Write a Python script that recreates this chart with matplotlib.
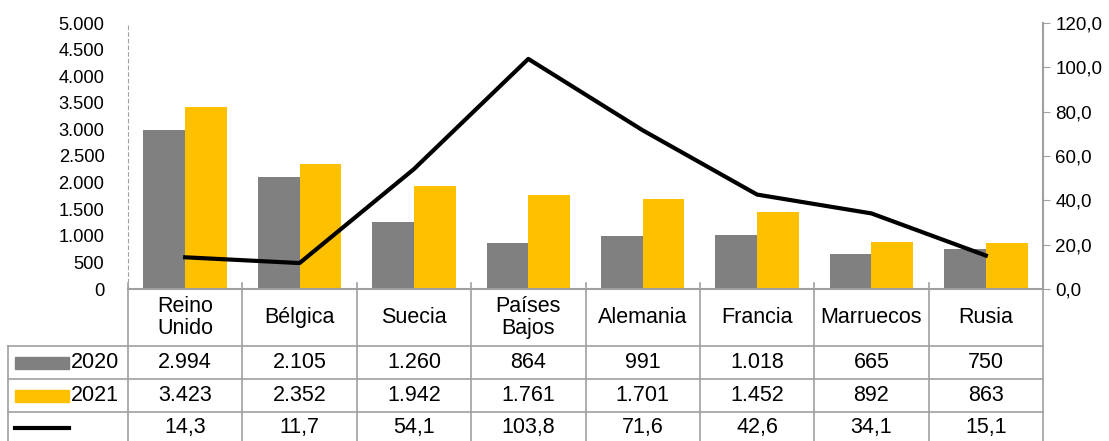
import numpy as np
import matplotlib.pyplot as plt
from matplotlib.patches import Rectangle
from matplotlib.lines import Line2D

plt.rcParams['font.family'] = ['Liberation Sans', 'DejaVu Sans']

# Data
paises = ["Reino\nUnido", "Bélgica", "Suecia", "Países\nBajos", "Alemania",
          "Francia", "Marruecos", "Rusia"]
v2020 = [2994, 2105, 1260, 864, 991, 1018, 665, 750]
v2021 = [3423, 2352, 1942, 1761, 1701, 1452, 892, 863]
variacion = [14.3, 11.7, 54.1, 103.8, 71.6, 42.6, 34.1, 15.1]
series = ["2020", "2021", ""]

GRAY = "#808080"
YELLOW = "#FFC000"
GRID = "#A0A0A0"

W, H = 1109, 441
fig = plt.figure(figsize=(W / 100, H / 100), dpi=100)


def fx(px):
    return px / W


def fy(py):
    return 1 - py / H


x_left, x_right, y_top, y_bot = 128, 1043, 23, 289
ax = fig.add_axes([fx(x_left), fy(y_bot), fx(x_right - x_left), (y_bot - y_top) / H])
ax2 = ax.twinx()

x = np.arange(len(paises))
bw = 0.365
ax.bar(x - bw / 2, v2020, bw, color=GRAY)
ax.bar(x + bw / 2, v2021, bw, color=YELLOW)
ax2.plot(x, variacion, color="black", lw=3)

ax.set_xlim(-0.5, len(paises) - 0.5)
ax.set_ylim(0, 5000)
ax2.set_ylim(0, 120)
ax.set_yticks(np.arange(0, 5001, 500))
ax.set_yticklabels([f"{v:,.0f}".replace(",", ".") for v in np.arange(0, 5001, 500)])
ax2.set_yticks(np.arange(0, 121, 20))
ax2.set_yticklabels([f"{v:.1f}".replace(".", ",") for v in np.arange(0, 121, 20)])
ax.set_xticks([])
ax.tick_params(axis="y", length=0, labelsize=13.2, pad=17)
ax2.tick_params(axis="y", length=5, color=GRID, labelsize=13.5, pad=4)

for s in ["top"]:
    ax.spines[s].set_visible(False)
    ax2.spines[s].set_visible(False)
ax2.spines["left"].set_visible(False)
ax.spines["right"].set_visible(False)
ax.spines["left"].set_linestyle((0, (3, 3)))
ax.spines["left"].set_color(GRID)
ax.spines["left"].set_linewidth(0.8)
ax2.spines["right"].set_color(GRID)
ax2.spines["right"].set_linewidth(1.5)
ax2.spines["bottom"].set_color(GRID)
ax2.spines["bottom"].set_linewidth(1.5)
ax.spines["bottom"].set_visible(False)

# Data table below the chart
rows_y = [289, 346, 379, 412, 445]
n = len(paises)
col_w = (x_right - x_left) / n
col_edges = [x_left + i * col_w for i in range(n + 1)]
legend_left = 8
FS = 15.5

lw_grid = 1.2
# horizontal lines
fig.add_artist(Line2D([fx(x_left), fx(x_right)], [fy(rows_y[0])] * 2, color=GRID, lw=lw_grid))
for yy in rows_y[1:4]:
    fig.add_artist(Line2D([fx(legend_left), fx(x_right)], [fy(yy)] * 2, color=GRID, lw=lw_grid))
# vertical lines
for xe in col_edges:
    fig.add_artist(Line2D([fx(xe)] * 2, [fy(rows_y[0] - 6), fy(H)], color=GRID, lw=lw_grid))
fig.add_artist(Line2D([fx(legend_left)] * 2, [fy(rows_y[1]), fy(H)], color=GRID, lw=lw_grid))

# header row
for i, p in enumerate(paises):
    cx = (col_edges[i] + col_edges[i + 1]) / 2
    fig.text(fx(cx), fy((rows_y[0] + rows_y[1]) / 2), p, ha="center", va="center",
             fontsize=FS, linespacing=1.1)

fmt_int = lambda v: f"{v:,}".replace(",", ".")
fmt_dec = lambda v: f"{v:.1f}".replace(".", ",")
row_vals = [[fmt_int(v) for v in v2020], [fmt_int(v) for v in v2021],
            [fmt_dec(v) for v in variacion]]

for r in range(3):
    cy = (rows_y[r + 1] + rows_y[r + 2]) / 2
    if r == 2:
        cy = rows_y[3] + 16
    for i, txt in enumerate(row_vals[r]):
        cx = (col_edges[i] + col_edges[i + 1]) / 2
        fig.text(fx(cx), fy(cy), txt, ha="center", va="center", fontsize=FS)
    # legend keys
    if r < 2:
        fig.add_artist(Rectangle((fx(15), fy(cy + 6)), fx(54), 12 / H,
                                 color=[GRAY, YELLOW][r]))
        fig.text(fx(119), fy(cy), series[r], ha="right", va="center", fontsize=FS)
    else:
        fig.add_artist(Line2D([fx(15), fx(69)], [fy(cy)] * 2, color="black", lw=3))

fig.savefig("out.png", dpi=100)
